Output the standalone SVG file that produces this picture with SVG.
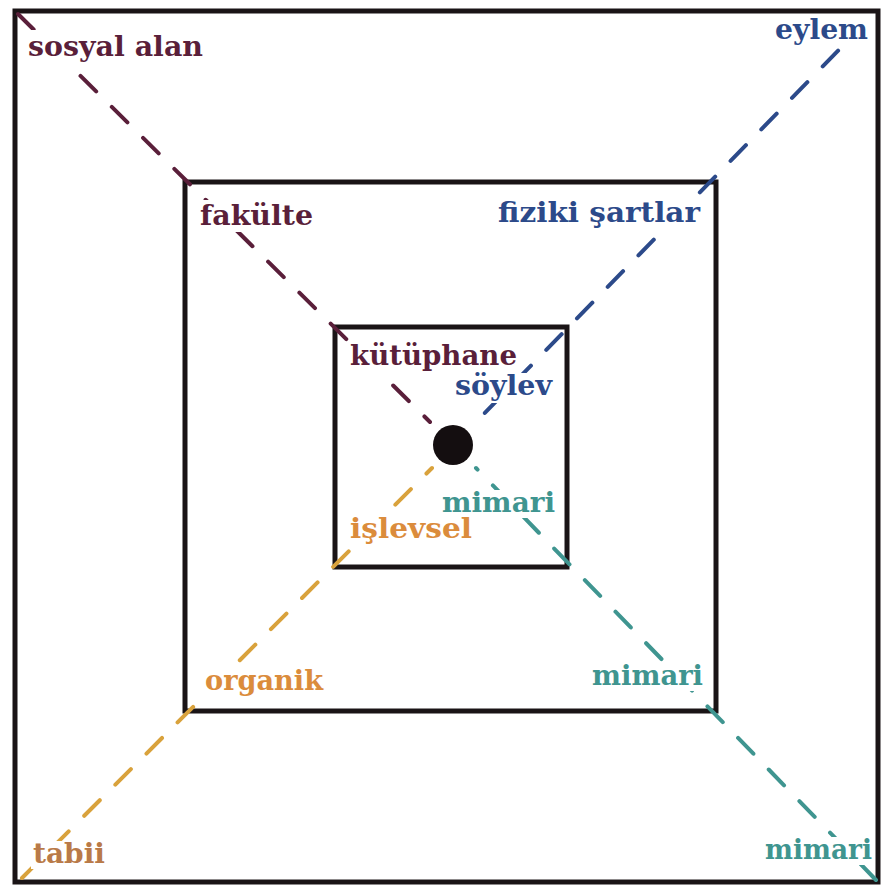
<svg xmlns="http://www.w3.org/2000/svg" width="884" height="887" viewBox="0 0 884 887">
<style>
.sq{fill:none;stroke:#1a1416;stroke-width:5}
.dl{fill:none;stroke-width:4;stroke-dasharray:22 22;stroke-linecap:round}
.bg{fill:#ffffff}
text{font-family:"DejaVu Serif","Liberation Serif",serif;font-weight:bold;font-size:27px}
.m{fill:#5a1f3a}.b{fill:#2c4a8a}.o{fill:#db8c3c}.t{fill:#3f9590}.br{fill:#b97a48}
</style>
<rect width="884" height="887" fill="#ffffff"/>
<g id="outer"><rect class="sq" x="15" y="11" width="863" height="871"/></g>
<g id="middle"><rect class="sq" x="185" y="182" width="531" height="529"/></g>
<g id="inner"><rect class="sq" x="335" y="327" width="232" height="240"/></g>
<g id="connectors">
<line class="dl" x1="18" y1="14" x2="430" y2="422" stroke="#5a1f3a"/>
<line class="dl" x1="866" y1="22" x2="477" y2="421" stroke="#2c4a8a" stroke-dashoffset="4"/>
<line class="dl" x1="22" y1="878" x2="432" y2="468" stroke="#d9a23c"/>
<line class="dl" x1="876" y1="880" x2="476" y2="468" stroke="#3f9590"/>
</g>
<g id="center"><circle cx="453" cy="445" r="20" fill="#140e10"/></g>
<g id="labels">
<g id="l-sosyal"><rect class="bg" x="26" y="30" width="179" height="34"/><text class="m" x="28" y="56" textLength="175" lengthAdjust="spacingAndGlyphs">sosyal alan</text></g>
<g id="l-eylem"><rect class="bg" x="773" y="16" width="97" height="30"/><text class="b" x="775" y="39" textLength="93" lengthAdjust="spacingAndGlyphs">eylem</text></g>
<g id="l-fakulte"><rect class="bg" x="198" y="200" width="117" height="32"/><text class="m" x="200" y="225" textLength="113" lengthAdjust="spacingAndGlyphs">fakülte</text></g>
<g id="l-fiziki"><rect class="bg" x="496" y="197" width="206" height="34"/><text class="b" x="498" y="222" textLength="202" lengthAdjust="spacingAndGlyphs">fiziki şartlar</text></g>
<g id="l-kutuphane"><rect class="bg" x="348" y="340" width="171" height="33"/><text class="m" x="350" y="365" textLength="167" lengthAdjust="spacingAndGlyphs">kütüphane</text></g>
<g id="l-soylev"><rect class="bg" x="453" y="373" width="101" height="30"/><text class="b" x="455" y="395" textLength="97" lengthAdjust="spacingAndGlyphs">söylev</text></g>
<g id="l-mimari1"><rect class="bg" x="440" y="490" width="117" height="28"/><text class="t" x="442" y="512" textLength="113" lengthAdjust="spacingAndGlyphs">mimari</text></g>
<g id="l-islevsel"><rect class="bg" x="348" y="516" width="126" height="30"/><text class="o" x="350" y="538" textLength="122" lengthAdjust="spacingAndGlyphs">işlevsel</text></g>
<g id="l-organik"><rect class="bg" x="203" y="666" width="122" height="32"/><text class="o" x="205" y="690" textLength="118" lengthAdjust="spacingAndGlyphs">organik</text></g>
<g id="l-mimari2"><rect class="bg" x="590" y="663" width="115" height="28"/><text class="t" x="592" y="685" textLength="111" lengthAdjust="spacingAndGlyphs">mimari</text></g>
<g id="l-tabii"><rect class="bg" x="31" y="841" width="76" height="28"/><text class="br" x="33" y="863" textLength="72" lengthAdjust="spacingAndGlyphs">tabii</text></g>
<g id="l-mimari3"><rect class="bg" x="763" y="837" width="111" height="28"/><text class="t" x="765" y="859" textLength="107" lengthAdjust="spacingAndGlyphs">mimari</text></g>
</g>
</svg>
